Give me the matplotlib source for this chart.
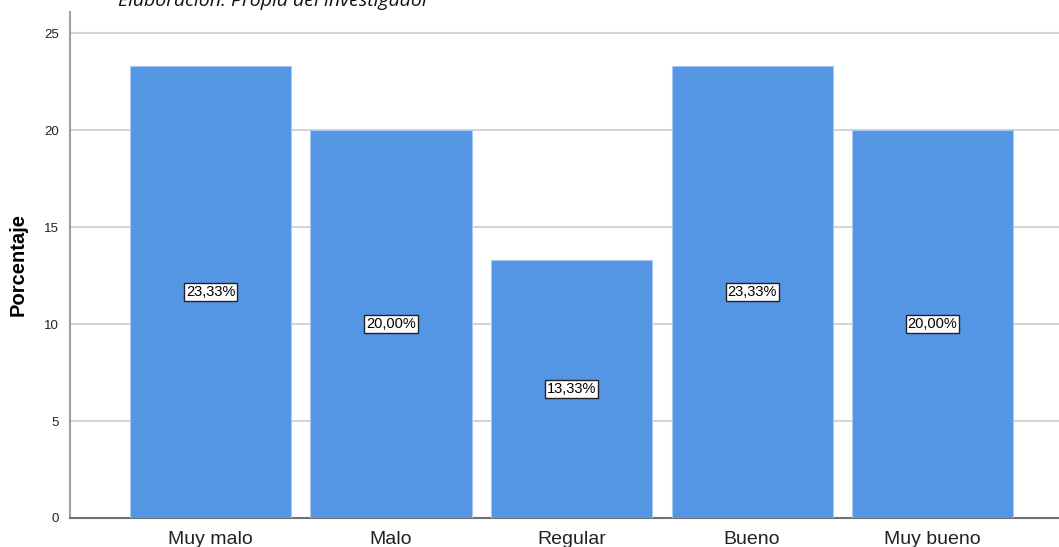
import matplotlib
matplotlib.use('Agg')
import matplotlib.pyplot as plt
import numpy as np

# ---------------------DATA------------------------
categorias = ['Muy malo', 'Malo', 'Regular', 'Bueno', 'Muy bueno']
porcentajes = [23.33, 20.00, 13.33, 23.33, 20.00]
etiquetas = ['23,33%', '20,00%', '13,33%', '23,33%', '20,00%']
yticks = [0, 5, 10, 15, 20, 25]

plt.rcParams['font.family'] = ['Liberation Sans', 'DejaVu Sans']

fig = plt.figure(figsize=(10.59, 5.47), dpi=100)
# axes box in pixels: left 70, right 1059, top 12, bottom 518
ax = fig.add_axes([70/1059, 1 - 518/547, (1059-70)/1059, (518-12)/547])

x = np.arange(len(categorias))
bars = ax.bar(x, porcentajes, width=0.892, color='#5495E4',
              edgecolor='#A9C8F0', linewidth=0.8, zorder=3)

ax.set_xlim(-0.778, 4.70)
ax.set_ylim(0, 26.1)
ax.set_yticks(yticks)
ax.set_yticklabels([str(t) for t in yticks], fontsize=9.5, color='#222222')
ax.set_xticks(x)
ax.set_xticklabels(categorias, fontsize=14, color='#222222')
ax.tick_params(axis='y', length=0, pad=8)
ax.tick_params(axis='x', length=0, pad=9)
ax.yaxis.grid(True, color='#D4D4D4', linewidth=1.5, zorder=0)
ax.set_axisbelow(True)

for s in ['top', 'right']:
    ax.spines[s].set_visible(False)
ax.spines['left'].set_color('#A0A0A0')
ax.spines['left'].set_linewidth(1.5)
ax.spines['bottom'].set_color('#707070')
ax.spines['bottom'].set_linewidth(1.5)

ax.set_ylabel('Porcentaje', fontsize=14.5, fontweight='bold', labelpad=12)

for xi, v, lab in zip(x, porcentajes, etiquetas):
    ax.text(xi, v / 2, lab, ha='center', va='center', fontsize=10.5, zorder=5,
            bbox=dict(boxstyle='square,pad=0.12', facecolor='white',
                      edgecolor='#222222', linewidth=1.0))

# caption partly cut by the top edge, as in the source image
fig.text(118/1059, 1 - 6/547, 'Elaboración: Propia del investigador',
         fontsize=14, style='italic', family=['Open Sans', 'DejaVu Sans'],
         color='#111111', ha='left', va='baseline')

fig.savefig('out.png', dpi=100)
